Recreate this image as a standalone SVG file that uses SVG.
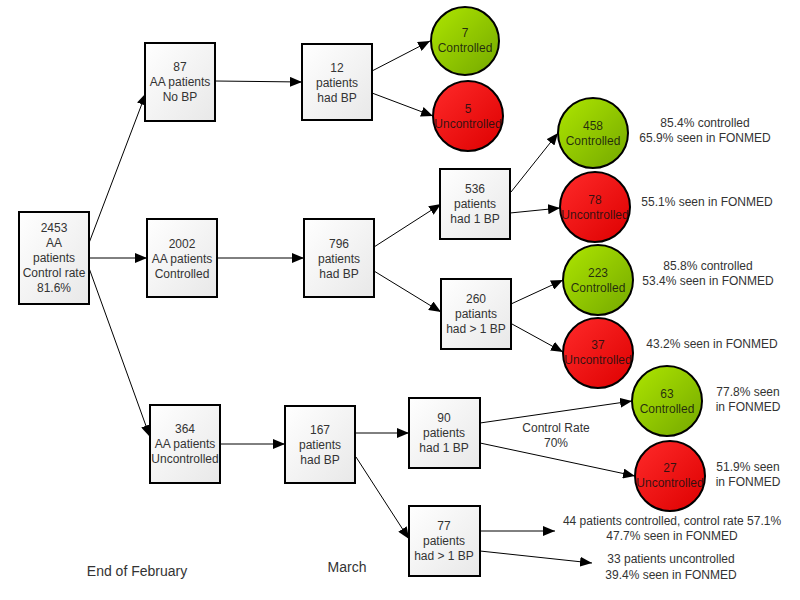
<svg xmlns="http://www.w3.org/2000/svg" width="800" height="600" viewBox="0 0 800 600">
<defs>
<linearGradient id="gBox" x1="0" y1="0" x2="1" y2="1"><stop offset="0" stop-color="#ffffff"/><stop offset="1" stop-color="#e8e8e8"/></linearGradient>
<linearGradient id="gGreen" x1="0" y1="0" x2="1" y2="1"><stop offset="0" stop-color="#aee600"/><stop offset="1" stop-color="#74a800"/></linearGradient>
<linearGradient id="gRed" x1="0" y1="0" x2="1" y2="1"><stop offset="0" stop-color="#ff2a2a"/><stop offset="1" stop-color="#dd0000"/></linearGradient>
<marker id="arr" viewBox="0 0 12 10" refX="12" refY="5" markerWidth="12" markerHeight="10" markerUnits="userSpaceOnUse" orient="auto"><path d="M0,0 L12,5 L0,10 z" fill="#000"/></marker>
<style>
.box{fill:url(#gBox);stroke:#000;stroke-width:2}
.cg{fill:url(#gGreen);stroke:#000;stroke-width:2}
.cr{fill:url(#gRed);stroke:#000;stroke-width:2}
text{font-family:"Liberation Sans",Arial,sans-serif;font-size:12px;text-anchor:middle;fill:#333}
.ct{fill:#111;fill-opacity:0.85}
.big{font-size:14px}
.c{stroke:#000;stroke-width:1;fill:none;marker-end:url(#arr)}
</style>
</defs>
<rect width="800" height="600" fill="#fff"/>
<g id="connectors">
<line class="c" x1="89" y1="243" x2="146" y2="93"/>
<line class="c" x1="89" y1="258" x2="147" y2="258"/>
<line class="c" x1="89" y1="268" x2="150" y2="437"/>
<line class="c" x1="215" y1="81" x2="302" y2="82"/>
<line class="c" x1="217" y1="258" x2="304" y2="258"/>
<line class="c" x1="372" y1="71" x2="430" y2="41"/>
<line class="c" x1="372" y1="93" x2="433" y2="116"/>
<line class="c" x1="374" y1="247" x2="441" y2="204"/>
<line class="c" x1="374" y1="271" x2="441" y2="312"/>
<line class="c" x1="511" y1="192" x2="558" y2="133"/>
<line class="c" x1="510" y1="213" x2="560" y2="208"/>
<line class="c" x1="511" y1="304" x2="563" y2="280"/>
<line class="c" x1="512" y1="324" x2="563" y2="352"/>
<line class="c" x1="220" y1="444" x2="285" y2="444"/>
<line class="c" x1="355" y1="433" x2="409" y2="433"/>
<line class="c" x1="356" y1="457" x2="409" y2="539"/>
<line class="c" x1="480" y1="423" x2="632" y2="401"/>
<line class="c" x1="480" y1="443" x2="635" y2="476"/>
<line class="c" x1="480" y1="531" x2="555" y2="531"/>
<line class="c" x1="480" y1="551" x2="592" y2="563"/>
</g>
<g id="n2453"><rect class="box" x="19" y="212" width="70" height="92"/><text x="54" y="232">2453</text><text x="54" y="247">AA</text><text x="54" y="262">patients</text><text x="54" y="277">Control rate</text><text x="54" y="292">81.6%</text></g>
<g id="n87"><rect class="box" x="145" y="43" width="70" height="78"/><text x="180" y="71">87</text><text x="180" y="86">AA patients</text><text x="180" y="101">No BP</text></g>
<g id="n12"><rect class="box" x="302" y="44" width="70" height="76"/><text x="337" y="72">12</text><text x="337" y="87">patients</text><text x="337" y="102">had BP</text></g>
<g id="n2002"><rect class="box" x="147" y="219" width="70" height="78"/><text x="182" y="248">2002</text><text x="182" y="263">AA patients</text><text x="182" y="278">Controlled</text></g>
<g id="n796"><rect class="box" x="304" y="219" width="70" height="78"/><text x="339" y="248">796</text><text x="339" y="263">patients</text><text x="339" y="278">had BP</text></g>
<g id="n364"><rect class="box" x="150" y="405" width="70" height="78"/><text x="185" y="433">364</text><text x="185" y="448">AA patients</text><text x="185" y="463">Uncontrolled</text></g>
<g id="n167"><rect class="box" x="285" y="406" width="70" height="77"/><text x="320" y="434">167</text><text x="320" y="449">patients</text><text x="320" y="464">had BP</text></g>
<g id="n536"><rect class="box" x="440" y="169" width="70" height="70"/><text x="475" y="193">536</text><text x="475" y="208">patients</text><text x="475" y="223">had 1 BP</text></g>
<g id="n260"><rect class="box" x="441" y="279" width="70" height="70"/><text x="476" y="303">260</text><text x="476" y="318">patiants</text><text x="476" y="333">had &gt; 1 BP</text></g>
<g id="n90"><rect class="box" x="409" y="398" width="71" height="70"/><text x="444" y="422">90</text><text x="444" y="437">patients</text><text x="444" y="452">had 1 BP</text></g>
<g id="n77"><rect class="box" x="409" y="506" width="71" height="70"/><text x="444" y="530">77</text><text x="444" y="545">patients</text><text x="444" y="560">had &gt; 1 BP</text></g>
<g id="c7"><circle class="cg" cx="465" cy="41" r="34"/><text class="ct" x="465" y="37">7</text><text class="ct" x="465" y="52">Controlled</text></g>
<g id="c5"><circle class="cr" cx="468" cy="116" r="35"/><text class="ct" x="468" y="113">5</text><text class="ct" x="468" y="128">Uncontrolled</text></g>
<g id="c458"><circle class="cg" cx="593" cy="133" r="35"/><text class="ct" x="593" y="130">458</text><text class="ct" x="593" y="145">Controlled</text></g>
<g id="c78"><circle class="cr" cx="595" cy="207" r="35"/><text class="ct" x="595" y="204">78</text><text class="ct" x="595" y="219">Uncontrolled</text></g>
<g id="c223"><circle class="cg" cx="598" cy="280" r="35"/><text class="ct" x="598" y="277">223</text><text class="ct" x="598" y="292">Controlled</text></g>
<g id="c37"><circle class="cr" cx="598" cy="353" r="35"/><text class="ct" x="598" y="349">37</text><text class="ct" x="598" y="364">Uncontrolled</text></g>
<g id="c63"><circle class="cg" cx="667" cy="401" r="35"/><text class="ct" x="667" y="398">63</text><text class="ct" x="667" y="413">Controlled</text></g>
<g id="c27"><circle class="cr" cx="670" cy="476" r="35"/><text class="ct" x="670" y="472">27</text><text class="ct" x="670" y="487">Uncontrolled</text></g>
<g id="labels">
<text x="705" y="127">85.4% controlled</text><text x="705" y="142">65.9% seen in FONMED</text>
<text x="707" y="206">55.1% seen in FONMED</text>
<text x="708" y="270">85.8% controlled</text><text x="708" y="285">53.4% seen in FONMED</text>
<text x="712" y="348">43.2% seen in FONMED</text>
<text x="748" y="396">77.8% seen</text><text x="748" y="411">in FONMED</text>
<text x="748" y="471">51.9% seen</text><text x="748" y="486">in FONMED</text>
<text x="556" y="432">Control Rate</text><text x="556" y="447">70%</text>
<text x="672" y="525">44 patients controlled, control rate 57.1%</text><text x="672" y="540">47.7% seen in FONMED</text>
<text x="671" y="563">33 patients uncontrolled</text><text x="671" y="579">39.4% seen in FONMED</text>
<text class="big" x="137" y="576">End of February</text>
<text class="big" x="347" y="572">March</text>
</g>
</svg>
